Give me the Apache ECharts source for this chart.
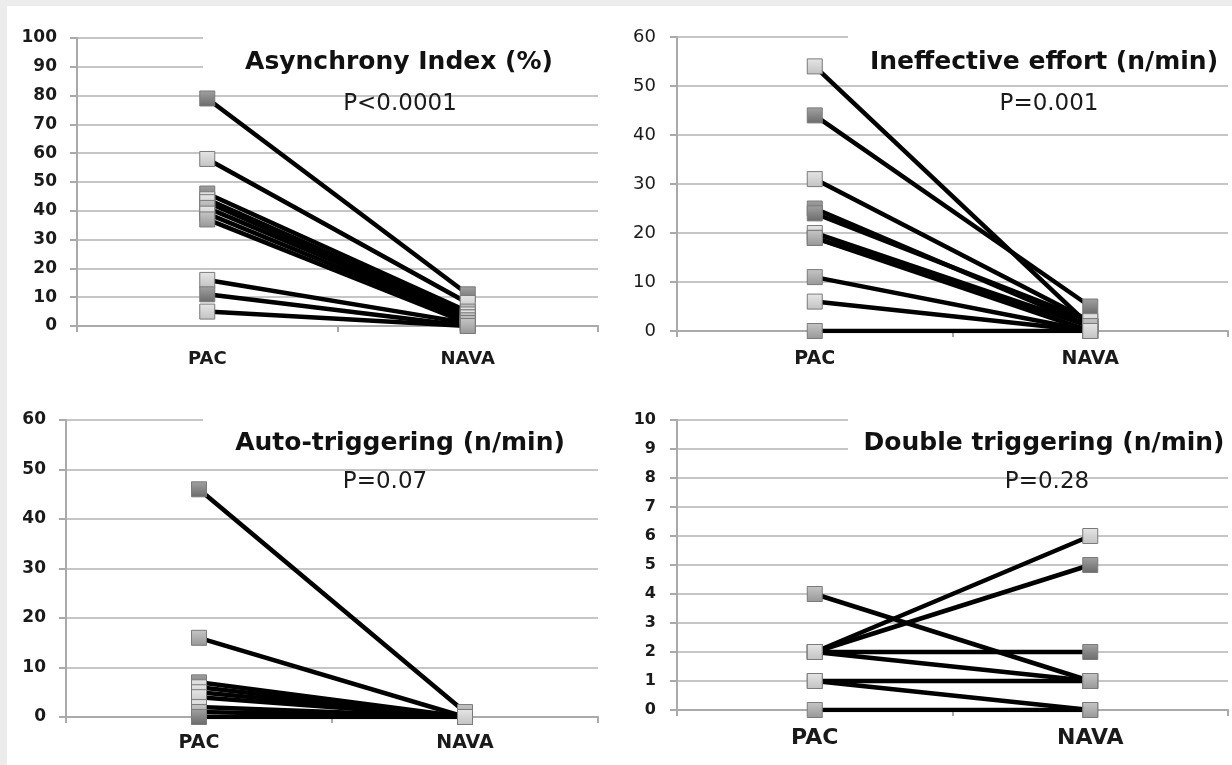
<!DOCTYPE html>
<html>
<head>
<meta charset="utf-8">
<script src="https://cdn.jsdelivr.net/npm/echarts@6/dist/echarts.min.js"></script>
<style>
  html, body { margin: 0; padding: 0; background: #fff; }
  #chart { width: 1232px; height: 765px; }
</style>
</head>
<body>
<div id="chart"></div>
<script>
// Paired measurements per patient: PAC vs NAVA ventilation
const categories = ['PAC', 'NAVA'];

const asynchronyPAC  = [79, 58, 46, 44, 43, 41, 39, 37, 16, 11, 5];
const asynchronyNAVA = [11, 8, 5, 4, 3, 3, 2, 1, 1, 0, 0];

const ineffectivePAC  = [54, 44, 31, 25, 24, 20, 19, 19, 11, 6, 0];
const ineffectiveNAVA = [1, 5, 2, 1, 2, 1, 0, 1, 0, 0, 0];

const autoTrigPAC  = [46, 16, 7, 6, 5, 4, 2, 1, 0];
const autoTrigNAVA = [1, 0, 0, 0, 0, 0, 0, 0, 0];

const doubleTrigPAC  = [4, 2, 2, 2, 2, 1, 1, 0];
const doubleTrigNAVA = [1, 6, 5, 2, 1, 1, 0, 0];

const panelTitles = ['Asynchrony Index (%)', 'Ineffective effort (n/min)', 'Auto-triggering (n/min)', 'Double triggering (n/min)'];
const pValues = ['P<0.0001', 'P=0.001', 'P=0.07', 'P=0.28'];
const yMax = [100, 60, 60, 10];
const yStep = [10, 10, 10, 1];

// marker tones (L light, M mid, D dark) per patient, PAC side then NAVA side
const tonesPAC = [
  'DLDLLMLMLDL', 'LDLDDLMMMLM', 'DMDLLLLMD', 'MLLLLLLM'
];
const tonesNAVA = [
  'DLMLMLMLMMM', 'MDLMLMLMLLL', 'MLLLLLLLL', 'MLDDMMMM'
];
const toneStops = {
  L: ['#e6e6e6', '#c2c2c2'],
  M: ['#c6c6c6', '#979797'],
  D: ['#a2a2a2', '#6a6a6a']
};

const panels = [
  { pac: asynchronyPAC,  nava: asynchronyNAVA,  grid: { left: 77, top: 38, right: 1232 - 598, bottom: 765 - 326 }, yFont: 'bold', yFs: 17, yMargin: 20, xFs: 18, xMargin: 24, titleXY: [399, 62], pXY: [400, 104], box: [203, 28, 398, 52] },
  { pac: ineffectivePAC, nava: ineffectiveNAVA, grid: { left: 677, top: 37, right: 1232 - 1228, bottom: 765 - 331 }, yFont: 'normal', yFs: 18, yMargin: 21, xFs: 19, xMargin: 19, titleXY: [1044, 62], pXY: [1049, 104], box: [848, 28, 384, 48] },
  { pac: autoTrigPAC,    nava: autoTrigNAVA,    grid: { left: 66, top: 420, right: 1232 - 598, bottom: 765 - 717 }, yFont: 'bold', yFs: 17, yMargin: 20, xFs: 19, xMargin: 17, titleXY: [400, 443], pXY: [385, 482], box: [203, 410, 398, 48] },
  { pac: doubleTrigPAC,  nava: doubleTrigNAVA,  grid: { left: 677, top: 420, right: 1232 - 1228, bottom: 765 - 710 }, yFont: 'bold', yFs: 16, yMargin: 21, xFs: 22, xMargin: 17, titleXY: [1044, 443], pXY: [1047, 482], box: [848, 410, 384, 53] }
];

function markerFill(tone) {
  const s = toneStops[tone] || toneStops.M;
  return new echarts.graphic.LinearGradient(0, 0, 0, 1, [
    { offset: 0, color: s[0] },
    { offset: 1, color: s[1] }
  ]);
}

const grids = [], xAxes = [], yAxes = [], series = [], graphics = [];

// light frame strips along the top and left edges
graphics.push({ type: 'rect', shape: { x: 0, y: 0, width: 1232, height: 6 }, style: { fill: '#ececec' }, z: 200 });
graphics.push({ type: 'rect', shape: { x: 0, y: 0, width: 7, height: 765 }, style: { fill: '#ececec' }, z: 200 });

panels.forEach((p, i) => {
  grids.push(Object.assign({ containLabel: false }, p.grid));
  xAxes.push({
    type: 'category', gridIndex: i, data: categories, boundaryGap: true,
    axisLine: { lineStyle: { color: '#aaaaaa', width: 2 } },
    axisTick: { show: true, length: 6, lineStyle: { color: '#aaaaaa', width: 2 } },
    axisLabel: { fontFamily: 'DejaVu Sans', fontWeight: 'bold', fontSize: p.xFs, color: '#1a1a1a', margin: p.xMargin }
  });
  yAxes.push({
    type: 'value', gridIndex: i, min: 0, max: yMax[i], interval: yStep[i],
    axisLine: { show: true, lineStyle: { color: '#aaaaaa', width: 2 } },
    axisTick: { show: true, length: 7, lineStyle: { color: '#aaaaaa', width: 2 } },
    splitLine: { lineStyle: { color: '#c6c6c6', width: 2 } },
    axisLabel: { fontFamily: 'DejaVu Sans', fontWeight: p.yFont, fontSize: p.yFs, color: '#1a1a1a', margin: p.yMargin }
  });

  p.pac.forEach((v, j) => {
    series.push({
      type: 'line', xAxisIndex: i, yAxisIndex: i,
      data: [v, p.nava[j]],
      symbol: 'none', silent: true, z: 1,
      lineStyle: { color: '#000', width: 4.5 }
    });
  });

  const pts = [];
  p.pac.forEach((v, j) => pts.push({ value: [0, v], itemStyle: { color: markerFill(tonesPAC[i][j]) } }));
  p.nava.forEach((v, j) => pts.push({ value: [1, v], itemStyle: { color: markerFill(tonesNAVA[i][j]) } }));
  series.push({
    type: 'scatter', xAxisIndex: i, yAxisIndex: i, data: pts,
    symbol: 'rect', symbolSize: 15, z: 5, silent: true,
    itemStyle: { borderColor: '#7a7a7a', borderWidth: 1, opacity: 1 }
  });

  // white panel behind the heading
  graphics.push({ type: 'rect', shape: { x: p.box[0], y: p.box[1], width: p.box[2], height: p.box[3] }, style: { fill: '#fff' }, z: 100 });
  graphics.push({ type: 'text', x: p.titleXY[0], y: p.titleXY[1], z: 101,
    style: { text: panelTitles[i], fontFamily: 'DejaVu Sans', fontWeight: 'bold', fontSize: 25, fill: '#111', align: 'center', verticalAlign: 'middle' } });
  graphics.push({ type: 'text', x: p.pXY[0], y: p.pXY[1], z: 101,
    style: { text: pValues[i], fontFamily: 'DejaVu Sans', fontSize: 23, fill: '#1a1a1a', align: 'center', verticalAlign: 'middle' } });
});

const chart = echarts.init(document.getElementById('chart'), null, { renderer: 'canvas' });
chart.setOption({
  backgroundColor: '#fff',
  animation: false,
  grid: grids,
  xAxis: xAxes,
  yAxis: yAxes,
  series: series,
  graphic: graphics
});
</script>
</body>
</html>
